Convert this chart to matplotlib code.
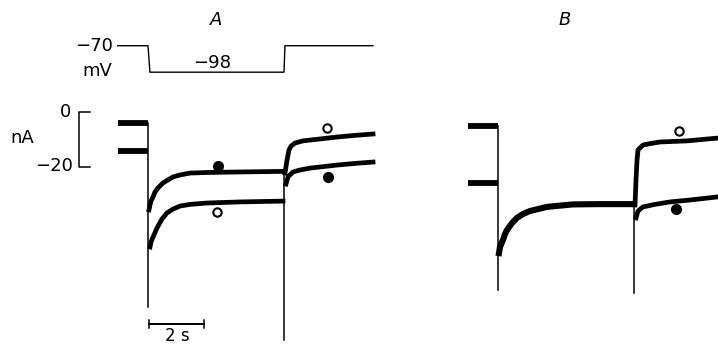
import numpy as np
import matplotlib
matplotlib.use('Agg')
import matplotlib.pyplot as plt

plt.rcParams['font.family'] = ['DejaVu Sans']

# ---- data (time in s from pulse onset, current in nA) ----
hold_t = [-1.1, 0.0]

# panel A
a_hold_upper = -4.0
a_hold_lower = -14.2
a_on_spike = -71.0
a_off_spike = -82.9
a_fill_t = [0.036, 0.073, 0.109, 0.182, 0.255, 0.364, 0.545, 0.727, 0.909, 1.164, 1.527, 2.145, 3.345, 4.909]
a_fill_i = [-35.6, -33.8, -32.4, -30.9, -29.1, -27.6, -25.8, -24.7, -23.6, -22.9, -22.2, -22.0, -21.8, -21.6]
a_open_t = [0.073, 0.109, 0.182, 0.327, 0.509, 0.691, 0.909, 1.164, 1.527, 2.145, 3.345, 4.909]
a_open_i = [-49.1, -47.3, -45.5, -42.2, -38.9, -36.7, -35.3, -34.2, -33.6, -33.1, -32.7, -32.4]
a_post_up_t = [4.982, 5.055, 5.127, 5.2, 5.345, 5.636, 6.255, 6.873, 7.527, 8.182]
a_post_up_i = [-22.2, -17.5, -13.8, -12.4, -11.3, -10.5, -9.8, -9.1, -8.5, -8.0]
a_post_lo_t = [5.018, 5.091, 5.273, 5.527, 5.891, 6.873, 7.527, 8.182]
a_post_lo_i = [-26.2, -23.6, -21.8, -21.1, -20.4, -19.3, -18.7, -18.2]
a_filled_marks = [(2.545, -19.6), (6.545, -23.6)]
a_open_marks = [(2.509, -36.4), (6.509, -5.8)]

# panel B
b_hold_upper = -5.1
b_hold_lower = -25.8
b_on_spike = -64.7
b_off_spike = -65.8
b_pulse_t = [0.036, 0.073, 0.182, 0.255, 0.327, 0.509, 0.691, 0.8, 0.909, 1.164, 1.782, 2.727, 3.709, 4.873]
b_pulse_i = [-51.3, -49.1, -46.5, -44.4, -42.9, -40.4, -38.5, -37.8, -37.1, -36.0, -34.5, -33.6, -33.5, -33.5]
b_post_up_t = [4.982, 5.018, 5.055, 5.091, 5.273, 5.527, 5.891, 6.873, 7.964]
b_post_up_i = [-33.8, -24.7, -17.5, -13.8, -12.0, -11.5, -10.9, -10.5, -9.5]
b_post_lo_t = [5.018, 5.091, 5.273, 5.709, 6.255, 6.982, 7.964]
b_post_lo_i = [-38.5, -36.0, -34.5, -33.6, -32.7, -32.0, -30.9]
b_filled_marks = [(6.473, -35.3)]
b_open_marks = [(6.582, -6.9)]

# voltage protocol (mV)
v_t = [-1.1, 0.0, 0.07, 4.945, 4.98, 8.18]
v_mv = [-70, -70, -98, -98, -70, -70]

step_off = 4.945

W, H = 718, 346
fig = plt.figure(figsize=(W / 100, H / 100), dpi=100)

PX_S = 27.5    # px per s
PX_NA = 2.75   # px per nA
PX_MV = 0.946  # px per mV


def px_axes(x0, y0, x1, y1):
    ax = fig.add_axes([x0 / W, 1 - y1 / H, (x1 - x0) / W, (y1 - y0) / H])
    ax.axis('off')
    return ax


# current axes, 0 nA sits at pixel row 112
axA = px_axes(0, 90, 420, 346)
axA.set_xlim(-148 / PX_S, (420 - 148) / PX_S)
axA.set_ylim(-(346 - 112) / PX_NA, (112 - 90) / PX_NA)
axB = px_axes(420, 90, 718, 346)
axB.set_xlim((420 - 498) / PX_S, (718 - 498) / PX_S)
axB.set_ylim(-(346 - 112) / PX_NA, (112 - 90) / PX_NA)
axV = px_axes(0, 0, 420, 90)
axV.set_xlim(-148 / PX_S, (420 - 148) / PX_S)
axV.set_ylim(-70 - (90 - 45.7) / PX_MV, -70 + 45.7 / PX_MV)

k = 'black'
thick = 3.4
thin = 1.1

# voltage
axV.plot(v_t, v_mv, color=k, lw=1.0)

# panel A traces
for lvl in (a_hold_upper, a_hold_lower):
    axA.plot(hold_t, [lvl, lvl], color=k, lw=4.2, solid_capstyle='butt')
axA.plot([0, 0], [a_hold_upper, a_on_spike], color=k, lw=thin)
axA.plot(a_fill_t, a_fill_i, color=k, lw=thick, solid_joinstyle='round')
axA.plot(a_open_t, a_open_i, color=k, lw=thick, solid_joinstyle='round')
axA.plot([step_off, step_off], [a_fill_i[-1], a_off_spike], color=k, lw=thin, clip_on=False)
axA.plot(a_post_up_t, a_post_up_i, color=k, lw=thick, solid_joinstyle='round')
axA.plot(a_post_lo_t, a_post_lo_i, color=k, lw=thick, solid_joinstyle='round')
for t, i in a_filled_marks:
    axA.plot(t, i, 'o', ms=7, color=k)
for t, i in a_open_marks:
    axA.plot(t, i, 'o', ms=6, mfc='white', mec=k, mew=1.5)

# panel B traces
for lvl in (b_hold_upper, b_hold_lower):
    axB.plot(hold_t, [lvl, lvl], color=k, lw=4.2, solid_capstyle='butt')
axB.plot([0, 0], [b_hold_upper, b_on_spike], color=k, lw=thin)
axB.plot(b_pulse_t, b_pulse_i, color=k, lw=4.4, solid_joinstyle='round')
axB.plot([step_off, step_off], [b_pulse_i[-1], b_off_spike], color=k, lw=thin)
axB.plot(b_post_up_t, b_post_up_i, color=k, lw=thick, solid_joinstyle='round')
axB.plot(b_post_lo_t, b_post_lo_i, color=k, lw=thick, solid_joinstyle='round')
for t, i in b_filled_marks:
    axB.plot(t, i, 'o', ms=7, color=k)
for t, i in b_open_marks:
    axB.plot(t, i, 'o', ms=6, mfc='white', mec=k, mew=1.5)

# current scale bracket
bx = (79 - 148) / PX_S
bx2 = (90 - 148) / PX_S
axA.plot([bx2, bx, bx, bx2], [0, 0, -20, -20], color=k, lw=1.1)

# time scale bar
tb = -(324 - 112) / PX_NA
axA.plot([0.05, 2.05], [tb, tb], color=k, lw=1.4)
for x in (0.05, 2.05):
    axA.plot([x, x], [tb + 1.6, tb - 1.6], color=k, lw=1.1)


def ptext(x, y, s, **kw):
    fig.text(x / W, 1 - y / H, s, **kw)


fs = 13
ptext(216, 20, 'A', fontsize=fs, style='italic', ha='center', va='center')
ptext(565, 20, 'B', fontsize=fs, style='italic', ha='center', va='center')
ptext(113, 46, '\u221270', fontsize=fs, ha='right', va='center')
ptext(112, 71, 'mV', fontsize=fs, ha='right', va='center')
ptext(212, 63, '\u221298', fontsize=fs, ha='center', va='center')
ptext(22, 138, 'nA', fontsize=fs, ha='center', va='center')
ptext(71, 112, '0', fontsize=fs, ha='right', va='center')
ptext(73, 166, '\u221220', fontsize=fs, ha='right', va='center')
ptext(177, 336, '2 s', fontsize=12, ha='center', va='center')

fig.savefig('out.png', dpi=100)
